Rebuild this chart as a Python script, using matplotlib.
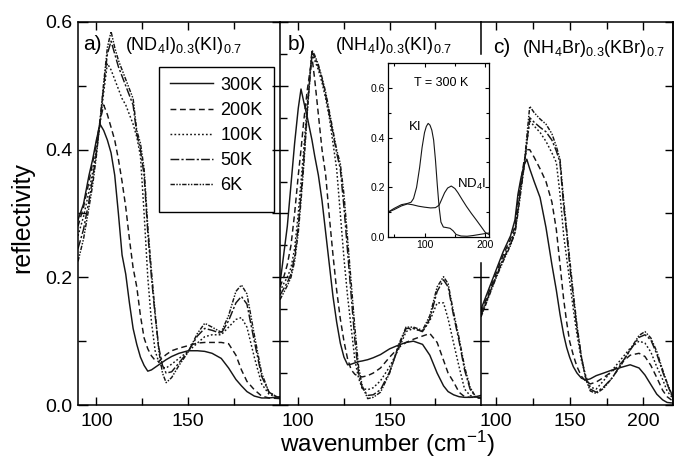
import matplotlib
matplotlib.use('Agg')
import matplotlib.pyplot as plt
from matplotlib.ticker import MultipleLocator, FixedLocator, FormatStrFormatter
from matplotlib.patches import Rectangle

plt.rcParams['font.family'] = ['Liberation Sans', 'DejaVu Sans']
plt.rcParams['mathtext.fontset'] = 'custom'
plt.rcParams['mathtext.rm'] = 'Liberation Sans'
plt.rcParams['mathtext.it'] = 'Liberation Sans:italic'
plt.rcParams['mathtext.bf'] = 'Liberation Sans:bold'

temps = ['300K', '200K', '100K', '50K', '6K']

# panel a: (ND4I)0.3(KI)0.7
wa = [90, 93, 96, 98, 100, 102, 104, 106, 108, 110, 112, 114, 116, 118, 120, 122, 124, 126, 128, 130,
      132, 134, 136, 138, 141, 145, 150, 155, 159, 163, 168, 172, 176, 179, 182, 186, 190, 194, 200]
a_300 = [0.29, 0.315, 0.36, 0.385, 0.415, 0.44, 0.43, 0.415, 0.395, 0.36, 0.30, 0.235, 0.205, 0.16, 0.12,
         0.095, 0.075, 0.062, 0.053, 0.055, 0.059, 0.063, 0.067, 0.071, 0.076, 0.081, 0.085, 0.085, 0.084,
         0.081, 0.073, 0.058, 0.040, 0.030, 0.021, 0.014, 0.011, 0.011, 0.013]
a_200 = [0.28, 0.31, 0.35, 0.38, 0.41, 0.445, 0.47, 0.455, 0.435, 0.415, 0.385, 0.35, 0.31, 0.26, 0.215,
         0.185, 0.14, 0.105, 0.088, 0.077, 0.07, 0.068, 0.074, 0.079, 0.085, 0.089, 0.093, 0.097, 0.098,
         0.098, 0.098, 0.096, 0.078, 0.055, 0.037, 0.024, 0.014, 0.011, 0.010]
a_100 = [0.265, 0.295, 0.335, 0.365, 0.40, 0.44, 0.49, 0.535, 0.525, 0.51, 0.495, 0.48, 0.47, 0.455, 0.44,
         0.42, 0.39, 0.30, 0.20, 0.13, 0.085, 0.067, 0.059, 0.058, 0.064, 0.073, 0.084, 0.097, 0.107,
         0.11, 0.11, 0.122, 0.134, 0.137, 0.122, 0.075, 0.033, 0.017, 0.010]
a_50 = [0.245, 0.275, 0.32, 0.355, 0.395, 0.445, 0.50, 0.55, 0.57, 0.55, 0.53, 0.515, 0.50, 0.485, 0.47,
        0.425, 0.40, 0.36, 0.27, 0.20, 0.14, 0.09, 0.062, 0.05, 0.052, 0.066, 0.084, 0.108, 0.12,
        0.117, 0.112, 0.132, 0.16, 0.17, 0.158, 0.10, 0.045, 0.02, 0.010]
a_6 = [0.225, 0.26, 0.31, 0.345, 0.39, 0.445, 0.505, 0.56, 0.585, 0.56, 0.54, 0.525, 0.51, 0.495, 0.48,
       0.43, 0.41, 0.37, 0.28, 0.21, 0.145, 0.085, 0.05, 0.035, 0.043, 0.062, 0.083, 0.112, 0.128,
       0.122, 0.114, 0.14, 0.178, 0.188, 0.174, 0.11, 0.05, 0.02, 0.010]

# panel b: (NH4I)0.3(KI)0.7
wb = [90, 92, 94, 96, 98, 100, 101.5, 103, 105, 107.5, 109, 111, 113, 115, 117, 119, 121, 123, 125, 127,
      129, 131, 133, 135, 138, 141, 145, 150, 155, 159, 163, 168, 172, 176, 179.5, 182, 185, 188, 191,
      194, 197, 200]
b_300 = [0.19, 0.235, 0.28, 0.345, 0.41, 0.465, 0.495, 0.475, 0.45, 0.415, 0.39, 0.36, 0.32, 0.27, 0.22,
         0.17, 0.13, 0.097, 0.075, 0.063, 0.064, 0.066, 0.068, 0.069, 0.071, 0.074, 0.079, 0.088, 0.094,
         0.098, 0.10, 0.095, 0.078, 0.05, 0.03, 0.021, 0.016, 0.013, 0.012, 0.012, 0.013, 0.015]
b_200 = [0.185, 0.20, 0.22, 0.25, 0.30, 0.36, 0.40, 0.445, 0.495, 0.545, 0.51, 0.455, 0.40, 0.36, 0.295,
         0.235, 0.18, 0.135, 0.10, 0.072, 0.055, 0.048, 0.045, 0.044, 0.046, 0.05, 0.058, 0.075, 0.09,
         0.098, 0.103, 0.108, 0.112, 0.098, 0.07, 0.05, 0.036, 0.02, 0.013, 0.012, 0.012, 0.012]
b_100 = [0.178, 0.19, 0.20, 0.215, 0.245, 0.30, 0.35, 0.40, 0.475, 0.55, 0.54, 0.525, 0.505, 0.48, 0.45,
         0.41, 0.37, 0.30, 0.23, 0.17, 0.12, 0.07, 0.042, 0.026, 0.024, 0.027, 0.038, 0.06, 0.088,
         0.115, 0.12, 0.115, 0.132, 0.16, 0.16, 0.135, 0.097, 0.06, 0.025, 0.015, 0.012, 0.011]
b_50 = [0.172, 0.182, 0.192, 0.205, 0.232, 0.28, 0.33, 0.385, 0.465, 0.553, 0.545, 0.53, 0.51, 0.485,
        0.455, 0.425, 0.395, 0.37, 0.31, 0.24, 0.17, 0.10, 0.05, 0.027, 0.015, 0.016, 0.024, 0.052,
        0.092, 0.12, 0.12, 0.115, 0.135, 0.178, 0.196, 0.185, 0.14, 0.10, 0.055, 0.025, 0.013, 0.010]
b_6 = [0.165, 0.176, 0.187, 0.20, 0.225, 0.27, 0.32, 0.375, 0.46, 0.556, 0.548, 0.533, 0.513, 0.49,
       0.46, 0.43, 0.40, 0.378, 0.33, 0.26, 0.19, 0.12, 0.06, 0.03, 0.01, 0.012, 0.02, 0.05, 0.095,
       0.122, 0.122, 0.117, 0.14, 0.185, 0.201, 0.19, 0.145, 0.105, 0.06, 0.028, 0.013, 0.010]

# panel c: (NH4Br)0.3(KBr)0.7
wc = [90, 95, 100, 105, 110, 113, 115, 117, 119, 121, 123, 126, 130, 134, 138, 141, 143.5, 146, 148, 150,
      152.5, 155, 158, 161, 164, 168, 173, 179, 185, 191, 197, 201, 205, 209, 213, 216, 220]
c_300 = [0.15, 0.18, 0.21, 0.24, 0.265, 0.29, 0.33, 0.355, 0.375, 0.385, 0.37, 0.35, 0.325, 0.278, 0.22,
         0.18, 0.142, 0.11, 0.09, 0.075, 0.06, 0.05, 0.042, 0.039, 0.041, 0.046, 0.05, 0.055, 0.059,
         0.063, 0.058, 0.047, 0.032, 0.017, 0.008, 0.004, 0.003]
c_200 = [0.145, 0.175, 0.205, 0.235, 0.26, 0.28, 0.32, 0.35, 0.38, 0.40, 0.40, 0.388, 0.37, 0.35, 0.318,
         0.275, 0.22, 0.165, 0.13, 0.10, 0.078, 0.06, 0.045, 0.037, 0.033, 0.036, 0.043, 0.053, 0.066,
         0.078, 0.081, 0.076, 0.062, 0.043, 0.023, 0.013, 0.006]
c_100 = [0.142, 0.172, 0.20, 0.23, 0.255, 0.275, 0.31, 0.345, 0.375, 0.41, 0.445, 0.437, 0.427, 0.413,
         0.395, 0.38, 0.33, 0.265, 0.23, 0.195, 0.15, 0.11, 0.07, 0.045, 0.028, 0.025, 0.038, 0.055,
         0.072, 0.089, 0.10, 0.097, 0.083, 0.06, 0.04, 0.022, 0.010]
c_50 = [0.14, 0.17, 0.20, 0.228, 0.252, 0.27, 0.305, 0.34, 0.37, 0.41, 0.45, 0.443, 0.435, 0.428, 0.415,
        0.398, 0.38, 0.31, 0.27, 0.22, 0.168, 0.12, 0.075, 0.042, 0.025, 0.02, 0.028, 0.043, 0.065,
        0.086, 0.106, 0.11, 0.102, 0.08, 0.052, 0.033, 0.010]
c_6 = [0.138, 0.168, 0.198, 0.225, 0.25, 0.27, 0.30, 0.335, 0.37, 0.42, 0.468, 0.458, 0.448, 0.44, 0.425,
       0.405, 0.385, 0.32, 0.275, 0.23, 0.175, 0.125, 0.075, 0.04, 0.022, 0.018, 0.026, 0.043, 0.063,
       0.087, 0.109, 0.115, 0.105, 0.084, 0.055, 0.035, 0.012]

# inset: pure compounds at 300 K
ki_w = [40, 50, 62, 72, 78, 82, 87, 92, 96, 100, 103, 106, 109, 112, 115, 118, 121, 124, 127, 131, 136,
        142, 147, 152, 160, 170, 180, 190, 200, 206]
ki_r = [0.10, 0.115, 0.13, 0.135, 0.14, 0.155, 0.20, 0.28, 0.36, 0.42, 0.445, 0.457, 0.45, 0.43, 0.39,
        0.31, 0.21, 0.12, 0.06, 0.04, 0.038, 0.035, 0.025, 0.01, 0.004, 0.003, 0.006, 0.01, 0.014, 0.016]
nd_w = [40, 50, 62, 72, 80, 90, 100, 110, 118, 124, 128, 133, 138, 144, 150, 155, 162, 169, 177, 185,
        193, 200, 206]
nd_r = [0.10, 0.11, 0.125, 0.133, 0.13, 0.124, 0.12, 0.117, 0.118, 0.128, 0.15, 0.178, 0.197, 0.205,
        0.195, 0.178, 0.15, 0.123, 0.095, 0.069, 0.042, 0.018, 0.010]

styles = ['-', (0, (4, 2.5)), (0, (1.2, 1.5)), (0, (6, 1.5, 1.5, 1.5)), (0, (3, 1, 1, 1, 1, 1))]

W, H = 674, 459
fig = plt.figure(figsize=(W / 100, H / 100), dpi=100)


def box(x0, y0, x1, y1):
    return [x0 / W, 1 - y1 / H, (x1 - x0) / W, (y1 - y0) / H]


def ftext(x, y, s, **kw):
    fig.text(x / W, 1 - y / H, s, **kw)


def style(ax, xlim, xmaj):
    ax.set_xlim(*xlim)
    ax.set_ylim(0, 0.6)
    ax.xaxis.set_major_locator(FixedLocator(xmaj))
    ax.xaxis.set_minor_locator(MultipleLocator(25))
    ax.tick_params(axis='x', which='both', direction='in', top=True, labelsize=14, pad=5.5)
    ax.tick_params(axis='x', which='major', length=6, width=1)
    ax.tick_params(axis='x', which='minor', length=5, width=1)
    for s in ax.spines.values():
        s.set_linewidth(1.1)


ax_a = fig.add_axes(box(78, 22, 280, 405))
ax_b = fig.add_axes(box(280, 22, 481, 405))
ax_c = fig.add_axes(box(481, 22, 673, 405))

lines = []
for ax, w, series in [(ax_a, wa, [a_300, a_200, a_100, a_50, a_6]),
                      (ax_b, wb, [b_300, b_200, b_100, b_50, b_6]),
                      (ax_c, wc, [c_300, c_200, c_100, c_50, c_6])]:
    for i, r in enumerate(series):
        ln, = ax.plot(w, r, color='#161616', lw=1.05, ls=styles[i])
        if ax is ax_a:
            lines.append(ln)

style(ax_a, (90, 200), [100, 150])
style(ax_b, (90, 200), [100, 150])
style(ax_c, (90, 220), [100, 150, 200])

# panel a y axis
ax_a.yaxis.set_major_locator(MultipleLocator(0.2))
ax_a.yaxis.set_minor_locator(MultipleLocator(0.1))
ax_a.yaxis.set_major_formatter(FormatStrFormatter('%.1f'))
ax_a.tick_params(axis='y', which='both', direction='in', right=False, labelsize=14, pad=4)
ax_a.tick_params(axis='y', which='major', length=7, width=1)
ax_a.tick_params(axis='y', which='minor', length=6, width=1)
ax_a.spines['right'].set_visible(False)

# panel b y axis
ax_b.yaxis.set_major_locator(MultipleLocator(0.1))
ax_b.yaxis.set_minor_locator(MultipleLocator(0.05))
ax_b.tick_params(axis='y', which='major', direction='inout', length=11, width=1, labelleft=False, right=False)
ax_b.tick_params(axis='y', which='minor', direction='in', length=5, width=1, right=False)
ax_b.spines['right'].set_visible(False)

# panel c y axis (left spine only partly drawn)
ax_c.yaxis.set_major_locator(FixedLocator([0.1, 0.2]))
ax_c.yaxis.set_minor_locator(FixedLocator([0.05, 0.15]))
ax_c.tick_params(axis='y', which='major', direction='inout', length=11, width=1, labelleft=False, right=False)
ax_c.tick_params(axis='y', which='minor', direction='in', length=5, width=1, right=False)
ax_c.spines['left'].set_bounds(0, 0.222)
ax_c.axvline(90, 0.917, 1.0, color='k', lw=1.1, clip_on=False)
tw = ax_c.twinx()
tw.set_ylim(0, 0.6)
tw.yaxis.set_major_locator(MultipleLocator(0.1))
tw.tick_params(axis='y', direction='in', length=6, width=1, labelright=False)
for side in ['left', 'top', 'bottom']:
    tw.spines[side].set_visible(False)
tw.spines['right'].set_linewidth(1.1)

# legend
ax_a.legend(lines, temps, loc='upper left', bbox_to_anchor=(0.455, 0.857), frameon=False,
            fontsize=13, handlelength=2.4, handletextpad=0.4, labelspacing=0.45,
            borderpad=0, borderaxespad=0)
ax_a.add_patch(Rectangle((0.401, 0.504), 0.569, 0.3785, transform=ax_a.transAxes,
                         fill=False, ec='k', lw=1.0, clip_on=False))

# panel titles
ftext(83, 50, 'a)', fontsize=15, va='baseline')
ftext(125, 50, r'$\mathrm{(ND_4I)_{0.3}(KI)_{0.7}}$', fontsize=13, va='baseline')
ftext(288, 50, 'b)', fontsize=15, va='baseline')
ftext(335, 50, r'$\mathrm{(NH_4I)_{0.3}(KI)_{0.7}}$', fontsize=13, va='baseline')
ftext(493, 53, 'c)', fontsize=15, va='baseline')
ftext(522, 53, r'$\mathrm{(NH_4Br)_{0.3}(KBr)_{0.7}}$', fontsize=13, va='baseline')

ftext(22, 218, 'reflectivity', rotation=90, ha='center', va='center', fontsize=18)
ftext(387, 452, r'wavenumber (cm$^{-1}$)', ha='center', va='baseline', fontsize=17.5)

# inset
ax_in = fig.add_axes(box(388, 63, 489, 237))
ax_in.plot(ki_w, ki_r, color='#161616', lw=0.8)
ax_in.plot(nd_w, nd_r, color='#161616', lw=0.8)
ax_in.set_xlim(40, 206)
ax_in.set_ylim(0, 0.7)
ax_in.xaxis.set_major_locator(MultipleLocator(100))
ax_in.xaxis.set_minor_locator(MultipleLocator(50))
ax_in.yaxis.set_major_locator(MultipleLocator(0.2))
ax_in.yaxis.set_minor_locator(MultipleLocator(0.1))
ax_in.yaxis.set_major_formatter(FormatStrFormatter('%.1f'))
ax_in.tick_params(which='both', direction='in', top=True, right=True, labelsize=7.5, pad=2, width=0.8)
ax_in.tick_params(which='major', length=3)
ax_in.tick_params(which='minor', length=2)
for s in ax_in.spines.values():
    s.set_linewidth(0.9)

ftext(441, 83, 'T = 300 K', fontsize=9, ha='center', va='center')
ftext(409, 130, 'KI', fontsize=9.5, va='baseline')
ftext(457, 188, r'ND$_4$I', fontsize=9.5, va='baseline')

fig.savefig('out.png', dpi=100)
